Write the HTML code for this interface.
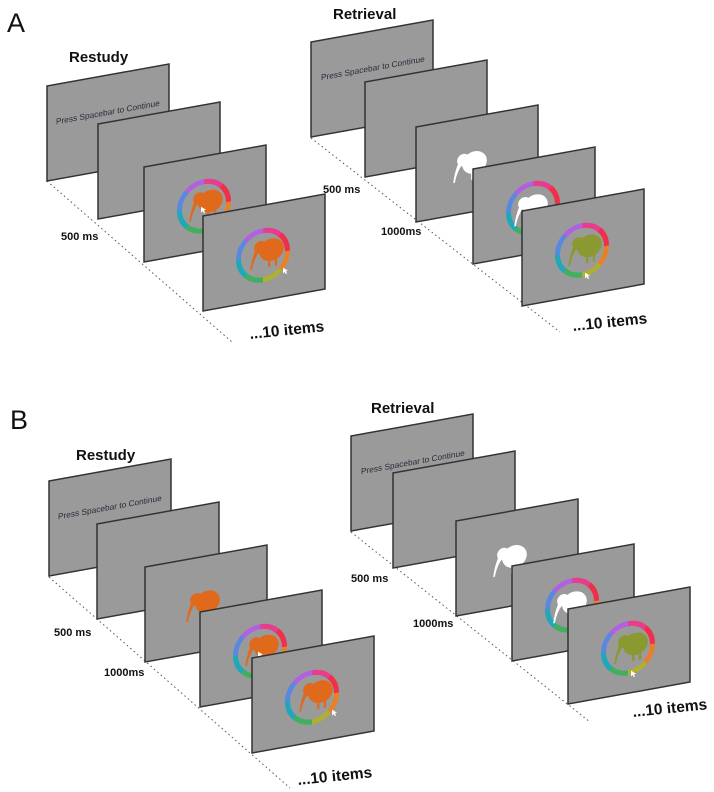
<!DOCTYPE html>
<html><head><meta charset="utf-8"><style>
html,body{margin:0;padding:0;background:#fff;width:714px;height:792px;overflow:hidden}
svg{display:block}
.lbl{font-family:"Liberation Sans",Arial,sans-serif;font-weight:bold;fill:#111}
.ps{font-family:"Liberation Sans",Arial,sans-serif;font-size:8.3px;fill:#2a2a3a}
</style></head><body>
<svg width="714" height="792" viewBox="0 0 714 792" xmlns="http://www.w3.org/2000/svg">
<defs>
<g id="ring" fill="none" stroke-width="5" transform="rotate(-90)">
<circle r="24.5" stroke="#e83c8c" stroke-dasharray="19.5 200" transform="rotate(0)"/>
<circle r="24.5" stroke="#f0304a" stroke-dasharray="19.5 200" transform="rotate(45)"/>
<circle r="24.5" stroke="#e8802a" stroke-dasharray="19.5 200" transform="rotate(90)"/>
<circle r="24.5" stroke="#b0b030" stroke-dasharray="19.5 200" transform="rotate(135)"/>
<circle r="24.5" stroke="#40b060" stroke-dasharray="19.5 200" transform="rotate(180)"/>
<circle r="24.5" stroke="#20a8b8" stroke-dasharray="19.5 200" transform="rotate(225)"/>
<circle r="24.5" stroke="#5a88e0" stroke-dasharray="19.5 200" transform="rotate(270)"/>
<circle r="24.5" stroke="#b060e0" stroke-dasharray="19.5 200" transform="rotate(315)"/>
</g>
<g id="kiwi" transform="scale(1.12)">
<ellipse cx="4" cy="0" rx="11" ry="10"/>
<circle cx="-6" cy="-4" r="5.5"/>
<path d="M-10,-3 Q-14,6 -15,15 L-13.5,15 Q-12,6 -7,0 Z"/>
<rect x="1" y="8" width="2" height="7"/>
<rect x="7" y="8" width="2" height="7"/>
</g>
<g id="cur"><path d="M0,0 L0,6 L1.5,4.5 L3,7 L4,6.5 L3,4 L5,4 Z" fill="#fff"/></g>
<g id="pnl"><polygon points="0,0 122,0 122,95 0,95" fill="#9a9a9a" stroke="#333" stroke-width="1.5"/></g>
</defs>

<g stroke="#555" stroke-width="1" stroke-dasharray="1.5 3" fill="none">
<line x1="47" y1="181" x2="232" y2="342"/>
<line x1="311" y1="138" x2="560" y2="332"/>
<line x1="49" y1="577" x2="290" y2="788"/>
<line x1="351" y1="532" x2="590" y2="722"/>
</g>

<g transform="translate(47,86) skewY(-10.2)"><use href="#pnl"/><text class="ps" x="9" y="40">Press Spacebar to Continue</text></g>
<g transform="translate(98,124) skewY(-10.2)"><use href="#pnl"/></g>
<g transform="translate(144,167) skewY(-10.2)"><use href="#pnl"/><use href="#ring" transform="translate(60,50)"/><use href="#kiwi" transform="translate(62,46)" fill="#e06a1c"/><use href="#cur" transform="translate(57,50)"/></g>
<g transform="translate(203,216) skewY(-10.2)"><use href="#pnl"/><use href="#ring" transform="translate(60,50)"/><use href="#kiwi" transform="translate(64,46)" fill="#e06a1c"/><use href="#cur" transform="translate(80,66)"/></g>

<g transform="translate(311,42) skewY(-10.2)"><use href="#pnl"/><text class="ps" x="10" y="40">Press Spacebar to Continue</text></g>
<g transform="translate(365,82) skewY(-10.2)"><use href="#pnl"/></g>
<g transform="translate(416,127) skewY(-10.2)"><use href="#pnl"/><use href="#kiwi" transform="translate(54,46)" fill="#fff"/></g>
<g transform="translate(473,169) skewY(-10.2)"><use href="#pnl"/><use href="#ring" transform="translate(60,50)"/><use href="#kiwi" transform="translate(58,48)" fill="#fff"/></g>
<g transform="translate(522,211) skewY(-10.2)"><use href="#pnl"/><use href="#ring" transform="translate(60,50)"/><use href="#kiwi" transform="translate(63,47)" fill="#8a9a30"/><use href="#cur" transform="translate(63,73)"/></g>

<g transform="translate(49,481) skewY(-10.2)"><use href="#pnl"/><text class="ps" x="9" y="40">Press Spacebar to Continue</text></g>
<g transform="translate(97,524) skewY(-10.2)"><use href="#pnl"/></g>
<g transform="translate(145,567) skewY(-10.2)"><use href="#pnl"/><use href="#kiwi" transform="translate(58,46)" fill="#e06a1c"/></g>
<g transform="translate(200,612) skewY(-10.2)"><use href="#pnl"/><use href="#ring" transform="translate(60,50)"/><use href="#kiwi" transform="translate(62,46)" fill="#e06a1c"/><use href="#cur" transform="translate(58,50)"/></g>
<g transform="translate(252,658) skewY(-10.2)"><use href="#pnl"/><use href="#ring" transform="translate(60,50)"/><use href="#kiwi" transform="translate(64,46)" fill="#e06a1c"/><use href="#cur" transform="translate(80,66)"/></g>

<g transform="translate(351,436) skewY(-10.2)"><use href="#pnl"/><text class="ps" x="10" y="40">Press Spacebar to Continue</text></g>
<g transform="translate(393,473) skewY(-10.2)"><use href="#pnl"/></g>
<g transform="translate(456,521) skewY(-10.2)"><use href="#pnl"/><use href="#kiwi" transform="translate(54,46)" fill="#fff"/></g>
<g transform="translate(512,566) skewY(-10.2)"><use href="#pnl"/><use href="#ring" transform="translate(60,50)"/><use href="#kiwi" transform="translate(58,48)" fill="#fff"/></g>
<g transform="translate(568,609) skewY(-10.2)"><use href="#pnl"/><use href="#ring" transform="translate(60,50)"/><use href="#kiwi" transform="translate(63,47)" fill="#8a9a30"/><use href="#cur" transform="translate(63,73)"/></g>

<text x="7" y="32" font-family="Liberation Sans,Arial,sans-serif" font-size="27" fill="#111">A</text>
<text x="10" y="429" font-family="Liberation Sans,Arial,sans-serif" font-size="27" fill="#111">B</text>
<text class="lbl" x="69" y="62" font-size="15">Restudy</text>
<text class="lbl" x="333" y="19" font-size="15">Retrieval</text>
<text class="lbl" x="76" y="460" font-size="15">Restudy</text>
<text class="lbl" x="371" y="413" font-size="15">Retrieval</text>

<text class="lbl" x="61" y="240" font-size="11">500 ms</text>
<text class="lbl" x="323" y="193" font-size="11">500 ms</text>
<text class="lbl" x="381" y="235" font-size="11">1000ms</text>
<text class="lbl" x="54" y="636" font-size="11">500 ms</text>
<text class="lbl" x="104" y="676" font-size="11">1000ms</text>
<text class="lbl" x="351" y="582" font-size="11">500 ms</text>
<text class="lbl" x="413" y="627" font-size="11">1000ms</text>

<text class="lbl" font-size="15.5" transform="translate(250,339) rotate(-6)">...10 items</text>
<text class="lbl" font-size="15.5" transform="translate(573,331) rotate(-6)">...10 items</text>
<text class="lbl" font-size="15.5" transform="translate(298,785) rotate(-6)">...10 items</text>
<text class="lbl" font-size="15.5" transform="translate(633,717) rotate(-6)">...10 items</text>
</svg>
</body></html>
